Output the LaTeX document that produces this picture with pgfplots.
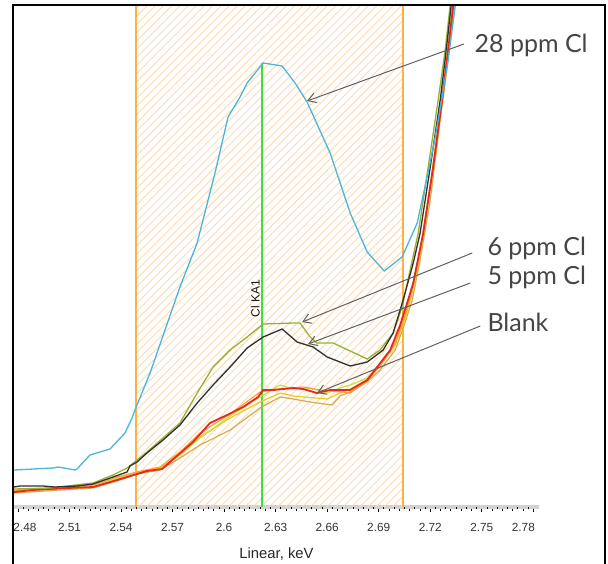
\documentclass[border=0pt]{standalone}
\usepackage{pgfplots}
\usepackage{pgfplotstable}
\pgfplotsset{compat=1.18}
\usetikzlibrary{patterns.meta,arrows.meta}
\usepackage{fontspec}
\setmainfont{Liberation Sans}
\newfontfamily\lato{Lato}

\definecolor{cblue}{HTML}{4BB6DA}
\definecolor{cred}{HTML}{E8281E}
\definecolor{corange}{HTML}{F8A040}
\definecolor{cyellow}{HTML}{F0C818}
\definecolor{clime}{HTML}{C8E040}
\definecolor{ctan}{HTML}{D8A850}
\definecolor{colive}{HTML}{9AAE30}
\definecolor{cblack}{HTML}{303030}
\definecolor{cgreen}{HTML}{3EE03E}
\definecolor{roiline}{HTML}{FFB040}
\definecolor{roihatch}{HTML}{FFD9B3}
\definecolor{annot}{HTML}{606060}
\definecolor{annottext}{HTML}{454545}

% spectra, x in keV, y in counts (arbitrary units)
\pgfplotstableread{
kev cnt
2.4777 37
2.5004 39
2.5033 40
2.5132 37
2.5144 38
2.5219 52
2.5336 58
2.5423 74
2.5464 89
2.5481 97
2.5569 134
2.5743 220
2.5843 264
2.5947 334
2.6023 390
2.6093 410
2.6134 424
2.6227 444
2.6338 441
2.6413 424
2.6483 405
2.6617 354
2.6734 294
2.6833 255
2.6932 236
2.7036 250
2.7124 284
2.7200 345
2.7229 370
2.7269 410
2.7304 447
2.7352 510
}\tcl

\pgfplotstableread{
kev cnt
2.4777 15
2.4887 17
2.5085 19
2.5237 20
2.5377 27
2.5493 33
2.5551 36
2.5639 38
2.5685 45
2.5819 65
2.5918 84
2.6017 92
2.6110 100
2.6198 110
2.6227 117
2.6285 117
2.6402 119
2.6460 118
2.6541 114
2.6617 117
2.6734 117
2.6833 127
2.6891 140
2.6967 157
2.7025 182
2.7071 207
2.7101 224
2.7159 274
2.7217 340
2.7269 407
2.7304 457
2.7334 502
2.7340 507
}\tred

\pgfplotstableread{
kev cnt
2.4777 20
2.4812 21
2.4946 21
2.5015 20
2.5144 21
2.5237 23
2.5353 30
2.5435 35
2.5452 41
2.5493 45
2.5551 54
2.5644 67
2.5743 82
2.5843 104
2.5936 122
2.6035 140
2.6134 159
2.6227 170
2.6338 178
2.6425 165
2.6518 160
2.6600 150
2.6734 141
2.6833 145
2.6926 157
2.6984 174
2.7042 207
2.7101 244
2.7141 274
2.7200 340
2.7258 407
2.7293 457
2.7322 502
2.7328 507
}\tfive

\pgfplotstableread{
kev cnt
2.4777 18
2.4986 19
2.5237 24
2.5353 32
2.5435 39
2.5493 47
2.5551 55
2.5644 69
2.5743 84
2.5843 114
2.5936 140
2.6035 157
2.6134 170
2.6227 183
2.6402 184
2.6442 184
2.6501 170
2.6541 164
2.6635 164
2.6833 148
2.6908 157
2.6984 174
2.7036 200
2.7083 237
2.7130 274
2.7188 340
2.7246 407
2.7287 457
2.7316 502
2.7322 507
}\tsix

\pgfplotstableread{
kev cnt
2.4777 16
2.4887 18
2.5085 20
2.5237 22
2.5377 30
2.5493 35
2.5627 40
2.5743 55
2.5860 74
2.6035 93
2.6209 115
2.6326 118
2.6460 120
2.6559 117
2.6693 115
2.6734 114
2.6833 126
2.6908 141
2.6996 164
2.7054 192
2.7089 214
2.7141 255
2.7200 320
2.7258 395
2.7299 450
2.7334 502
2.7340 507
}\tborange

\pgfplotstableread{
kev cnt
2.4777 16
2.5045 18
2.5237 20
2.5377 28
2.5493 35
2.5627 39
2.5743 52
2.5860 70
2.6035 89
2.6209 105
2.6326 114
2.6402 111
2.6600 108
2.6675 114
2.6734 118
2.6833 127
2.6908 141
2.6996 162
2.7054 189
2.7089 210
2.7141 252
2.7200 317
2.7258 392
2.7299 447
2.7334 502
2.7340 507
}\tbyellow

\pgfplotstableread{
kev cnt
2.4777 17
2.5045 19
2.5237 22
2.5377 29
2.5493 34
2.5627 38
2.5743 52
2.5860 69
2.6035 91
2.6209 110
2.6326 122
2.6402 118
2.6501 119
2.6600 114
2.6675 119
2.6734 122
2.6833 129
2.6908 142
2.6996 165
2.7054 192
2.7089 215
2.7141 257
2.7200 322
2.7258 397
2.7299 452
2.7328 502
2.7334 507
}\tblime

\pgfplotstableread{
kev cnt
2.4777 14
2.5045 17
2.5237 19
2.5377 26
2.5493 33
2.5627 37
2.5743 49
2.5860 62
2.6035 77
2.6209 99
2.6326 110
2.6402 108
2.6501 105
2.6629 102
2.6675 111
2.6734 115
2.6833 125
2.6908 137
2.6996 157
2.7054 185
2.7095 207
2.7141 247
2.7200 307
2.7258 387
2.7304 447
2.7340 502
2.7346 507
}\tbtan

\begin{document}
\begin{tikzpicture}
\begin{axis}[
  scale only axis, width=262.5pt, height=251pt,
  xmin=2.4777, xmax=2.7833, ymin=0, ymax=502,
  axis y line=none, axis x line*=bottom,
  x axis line style={draw=black!18, line width=1.6pt, -},
  xtick={2.48,2.51,2.54,2.57,2.6,2.63,2.66,2.69,2.72,2.75,2.78},
  xticklabels={\hspace{7pt}2.48,2.51,2.54,2.57,2.6,2.63,2.66,2.69,2.72,2.75,{2.78\kern10pt\relax}},
  minor x tick num=4,
  extra x ticks={2.483,2.489,...,2.778},
  extra x tick labels={},
  extra x tick style={major tick length=1.2pt},
  tick align=outside,
  major tick length=2.4pt, minor tick length=2pt,
  xtick style={draw=black, line width=0.45pt},
  xticklabel style={font=\fontsize{5.9}{6}\selectfont, text=black!80, yshift=-2.2pt},
  /pgf/number format/assume math mode=true,
  xlabel={Linear, keV},
  xlabel style={font=\fontsize{7.4}{8}\selectfont, text=black!85,
    at={(axis description cs:0.5,0)}, anchor=base, yshift=-25.5pt},
]
% region of interest
\addplot[draw=none, pattern={Lines[angle=45,distance=2.9pt,line width=0.45pt]},
  pattern color=roihatch] coordinates {(2.5486,0) (2.5486,502) (2.7041,502) (2.7041,0)} \closedcycle;
\addplot[roiline, line width=0.9pt] coordinates {(2.5486,0) (2.5486,502)};
\addplot[roiline, line width=0.9pt] coordinates {(2.7041,0) (2.7041,502)};
\addplot[cgreen, line width=0.7pt] coordinates {(2.6221,0) (2.6221,444)};

% blanks
\addplot[ctan, line width=0.6pt] table[x=kev,y=cnt] {\tbtan};
\addplot[cyellow, line width=0.6pt] table[x=kev,y=cnt] {\tbyellow};
\addplot[clime, line width=0.6pt] table[x=kev,y=cnt] {\tblime};
\addplot[corange, line width=0.6pt] table[x=kev,y=cnt] {\tborange};
\addplot[cred, line width=0.9pt] table[x=kev,y=cnt] {\tred};
% standards
\addplot[colive, line width=0.65pt] table[x=kev,y=cnt] {\tsix};
\addplot[cblack, line width=0.65pt] table[x=kev,y=cnt] {\tfive};
\addplot[cblue, line width=0.65pt] table[x=kev,y=cnt] {\tcl};

\node[rotate=90, anchor=base west, inner sep=0pt, font=\fontsize{6}{6}\selectfont, text=black!90]
  at (axis cs:2.6207,189) {Cl KA1};

\coordinate (s28) at (axis cs:2.7396,463);
\coordinate (e28) at (axis cs:2.6483,406);
\coordinate (s6) at (axis cs:2.7444,254);
\coordinate (e6) at (axis cs:2.6454,185);
\coordinate (s5) at (axis cs:2.7433,224);
\coordinate (e5) at (axis cs:2.6489,163);
\coordinate (sb) at (axis cs:2.7491,181);
\coordinate (eb) at (axis cs:2.6541,114);
\coordinate (t28) at (axis cs:2.7456,454);
\coordinate (t6) at (axis cs:2.7531,252);
\coordinate (t5) at (axis cs:2.7531,223);
\coordinate (tb) at (axis cs:2.7531,176);
\end{axis}

\foreach \a/\b in {s28/e28,s6/e6,s5/e5,sb/eb}
  \draw[annot, line width=0.5pt, -{Straight Barb[length=4pt,width=5pt]}] (\a) -- (\b);
\begin{scope}[every node/.style={anchor=base west, inner sep=0pt, text=annottext,
    font=\lato\fontsize{12.5}{14}\selectfont}]
\node at (t28) {28 ppm Cl};
\node at (t6) {6 ppm Cl};
\node at (t5) {5 ppm Cl};
\node at (tb) {Blank};
\end{scope}

% window frame
\draw[black, line width=1pt] (-0.6pt,-40pt) -- (-0.6pt,251.2pt) -- (295.7pt,251.2pt) -- (295.7pt,-40pt);
\pgfresetboundingbox
\path[use as bounding box] (-7pt,-28pt) rectangle (297pt,253.5pt);
\end{tikzpicture}
\end{document}
